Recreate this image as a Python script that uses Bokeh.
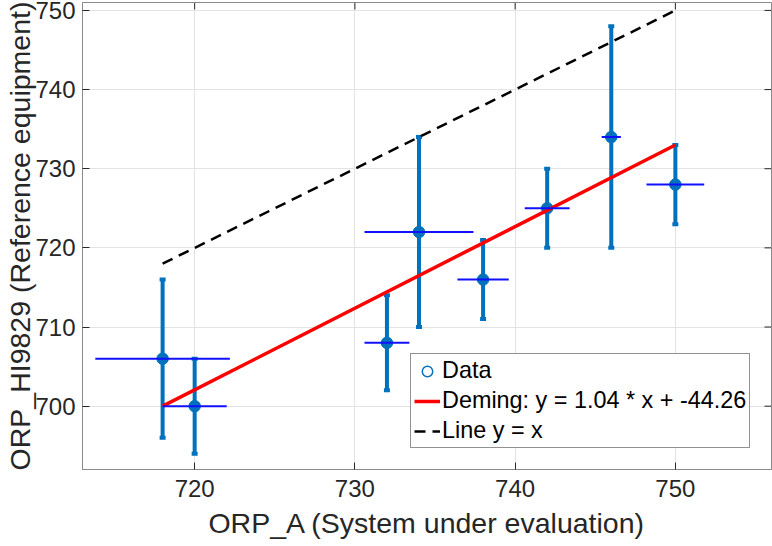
from bokeh.plotting import figure
from bokeh.models import (ColumnDataSource, Range1d, Legend, LegendItem,
                          Whisker, TeeHead, FixedTicker)
from bokeh.embed import file_html
from bokeh.resources import INLINE

# ---- data ----
orp_a = [718, 720, 732, 734, 738, 742, 746, 750]          # ORP_A (System under evaluation)
orp_hi = [706, 700, 708, 722, 716, 725, 734, 728]         # ORP_HI9829 (Reference equipment)
err_hi = [10, 6, 6, 12, 5, 5, 14, 5]                      # vertical error (half length)
err_a = [4.2, 2.0, 1.4, 3.4, 1.6, 1.4, 0.6, 1.8]          # horizontal error (half length)

fit_x = [718, 750]                                        # Deming fit line ends
fit_y = [700, 733]
ident_x = [718, 750]                                      # line y = x
ident_y = [718, 750]

x_ticks = [720, 730, 740, 750]
y_ticks = [700, 710, 720, 730, 740, 750]

deming_label = "Deming: y = 1.04 * x + -44.26"

FONT = "Liberation Sans"
TXT = "#262626"
BLUE = "#0072BD"

X0, X1, Y0, Y1 = 713, 756, 692, 751
W, H = 772, 546
BL, BR, BT, BB = 82, 1, 2, 77
TICK_PX = 7

src = ColumnDataSource(dict(
    x=orp_a, y=orp_hi,
    ylo=[v - e for v, e in zip(orp_hi, err_hi)],
    yhi=[v + e for v, e in zip(orp_hi, err_hi)],
    xlo=[v - e for v, e in zip(orp_a, err_a)],
    xhi=[v + e for v, e in zip(orp_a, err_a)],
))

p = figure(width=W, height=H, output_backend="svg", toolbar_location=None,
           x_range=Range1d(X0, X1), y_range=Range1d(Y0, Y1),
           min_border_left=BL, min_border_right=BR, min_border_top=BT, min_border_bottom=BB)

p.background_fill_color = "white"
p.border_fill_color = "white"
p.outline_line_color = "#8a8a8a"
p.outline_line_width = 1

for ax in (p.xaxis[0], p.yaxis[0]):
    ax.axis_line_color = "#8a8a8a"
    ax.major_tick_in = TICK_PX
    ax.major_tick_out = 0
    ax.minor_tick_line_color = None
    ax.major_tick_line_color = TXT
    ax.major_label_text_font = FONT
    ax.major_label_text_font_size = "24px"
    ax.major_label_text_color = TXT
    ax.axis_label_text_font = FONT
    ax.axis_label_text_font_size = "28.5px"
    ax.axis_label_text_font_style = "normal"
    ax.axis_label_text_color = TXT

p.xaxis.ticker = FixedTicker(ticks=x_ticks)
p.yaxis.ticker = FixedTicker(ticks=y_ticks)
p.xaxis.axis_label = "ORP_A (System under evaluation)"
p.yaxis.axis_label = "ORP_HI9829 (Reference equipment)"
p.xaxis.major_label_standoff = 10
p.xaxis.axis_label_standoff = 7
p.yaxis.major_label_standoff = 7
p.yaxis.axis_label_standoff = -4

p.xgrid.ticker = FixedTicker(ticks=x_ticks)
p.ygrid.ticker = FixedTicker(ticks=y_ticks)
p.grid.grid_line_color = "#e3e3e3"
p.grid.grid_line_width = 1

# mirrored tick marks on the top and right box edges (length TICK_PX in screen pixels)
dx_tick = TICK_PX * (X1 - X0) / (W - BL - BR)
dy_tick = TICK_PX * (Y1 - Y0) / (H - BT - BB)
p.segment(x0=x_ticks, y0=[Y1] * len(x_ticks), x1=x_ticks, y1=[Y1 - dy_tick] * len(x_ticks),
          line_color=TXT, line_width=1)
p.segment(x0=[X1] * len(y_ticks), y0=y_ticks, x1=[X1 - dx_tick] * len(y_ticks), y1=y_ticks,
          line_color=TXT, line_width=1)

# vertical error bars with small caps
wh = Whisker(source=src, base="x", lower="ylo", upper="yhi", dimension="height",
             line_color=BLUE, line_width=4,
             lower_head=TeeHead(size=6, line_color=BLUE, line_width=4),
             upper_head=TeeHead(size=6, line_color=BLUE, line_width=4))
p.add_layout(wh)

# small open-circle legend icon (drawn under the markers, so hidden in the plot)
dot_icon = p.scatter("x", "y", source=src, marker="circle", size=5, fill_color="white",
                     line_color=BLUE, line_width=1.5)

pts = p.scatter("x", "y", source=src, size=11.5, fill_color=BLUE, line_color=BLUE)

fit = p.line(fit_x, fit_y, line_color="#ff0000", line_width=3.5)
ident = p.line(ident_x, ident_y, line_color="black", line_width=2.5, line_dash="11 7")

p.segment(x0="xlo", y0="y", x1="xhi", y1="y", source=src, line_color="#1010ff", line_width=2)

legend = Legend(items=[
    LegendItem(label="Data", renderers=[dot_icon]),
    LegendItem(label=deming_label, renderers=[fit]),
    LegendItem(label="Line y = x", renderers=[ident]),
], location=(328, 21))
legend.label_text_font = FONT
legend.label_text_font_size = "23.4px"
legend.label_text_color = "black"
legend.glyph_width = 26
legend.glyph_height = 26
legend.label_standoff = 2
legend.label_height = 26
legend.padding = 3
legend.spacing = 3
legend.margin = 0
legend.border_line_color = TXT
legend.border_line_width = 1
legend.background_fill_color = "white"
legend.background_fill_alpha = 1
p.add_layout(legend)

open("out.html", "w").write(file_html(p, INLINE))
